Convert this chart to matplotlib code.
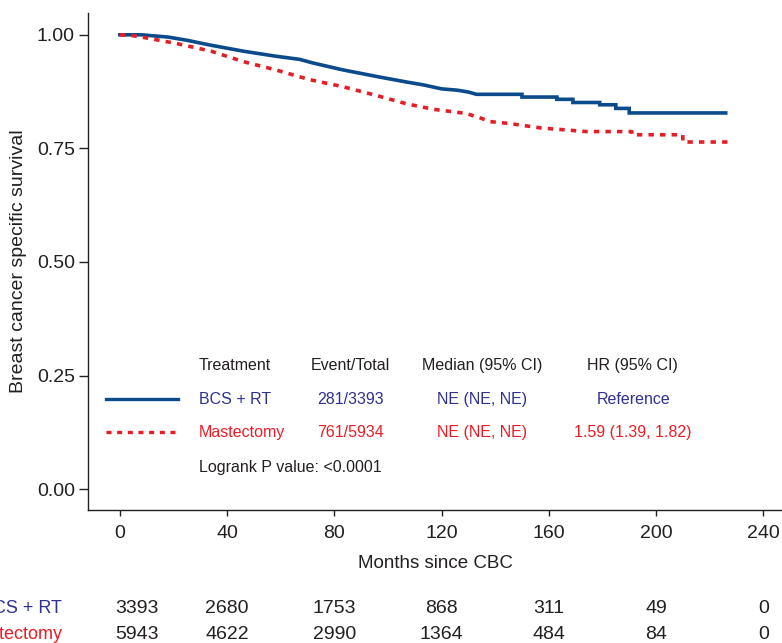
import matplotlib
matplotlib.use("Agg")
import matplotlib.pyplot as plt

plt.rcParams['font.family'] = ['Liberation Sans', 'DejaVu Sans']

# Kaplan-Meier curves (vertices; repeated times = drops)
bcs_t = [0, 8, 18, 25, 34, 46, 58, 67, 72, 83, 96, 107, 113, 120, 126, 130,
         133, 150, 150, 163, 163, 169, 169, 179, 179, 185, 185, 190, 190, 226]
bcs_s = [1.0, 1.0, 0.995, 0.988, 0.977, 0.964, 0.953, 0.946, 0.938, 0.923,
         0.908, 0.896, 0.890, 0.881, 0.878, 0.874, 0.869, 0.869, 0.863, 0.863,
         0.858, 0.858, 0.851, 0.851, 0.846, 0.846, 0.838, 0.838, 0.828, 0.828]
mast_t = [0, 5, 11, 21, 34, 46, 58, 71, 83, 96, 107, 117, 129, 134, 138, 145,
          157, 174, 191, 191, 210, 210, 227]
mast_s = [1.0, 0.998, 0.992, 0.981, 0.964, 0.941, 0.923, 0.901, 0.886, 0.866,
          0.848, 0.836, 0.827, 0.818, 0.809, 0.805, 0.795, 0.787, 0.787, 0.780,
          0.780, 0.764, 0.764]

# numbers at risk
risk_times = [0, 40, 80, 120, 160, 200, 240]
risk_bcs = [3393, 2680, 1753, 868, 311, 49, 0]
risk_mast = [5943, 4622, 2990, 1364, 484, 84, 0]

groups = ["BCS + RT", "Mastectomy"]
events = ["281/3393", "761/5934"]
medians = ["NE (NE, NE)", "NE (NE, NE)"]
hrs = ["Reference", "1.59 (1.39, 1.82)"]
headers = ["Treatment", "Event/Total", "Median (95% CI)", "HR (95% CI)"]

line_blue = '#0b4a8b'
line_red = '#e41e26'
txt_blue = '#2e3192'
txt_red = '#ed1c24'
txt_dark = '#231f20'
dash = (1.5, 1.7)

fig = plt.figure(figsize=(7.82, 6.43), dpi=100)
ax = fig.add_axes([88 / 782, 1 - 510 / 643, 1 - 88 / 782, (510 - 13) / 643])

ax.plot(bcs_t, bcs_s, color=line_blue, lw=2.6, solid_joinstyle='miter')
ax.plot(mast_t, mast_s, color=line_red, lw=2.6, dashes=dash)

ax.set_xlim(-11.9, 247)
ax.set_ylim(-0.046, 1.048)
ax.set_xticks(risk_times)
ax.set_yticks([0, 0.25, 0.5, 0.75, 1.0])
ax.set_yticklabels(['0.00', '0.25', '0.50', '0.75', '1.00'])
for s in ['top', 'right']:
    ax.spines[s].set_visible(False)
for s in ['left', 'bottom']:
    ax.spines[s].set_color(txt_dark)
    ax.spines[s].set_linewidth(1.0)
ax.tick_params(axis='x', direction='out', length=4.5, width=1.0, pad=6,
               labelsize=14, colors=txt_dark)
ax.tick_params(axis='y', direction='out', length=6.5, width=1.0, pad=3,
               labelsize=14, colors=txt_dark)
ax.set_xlabel("Months since CBC", fontsize=13.5, color=txt_dark, labelpad=10)
ax.set_ylabel("Breast cancer specific survival", fontsize=14, color=txt_dark,
              labelpad=7)

# in-plot legend table
fs = 11.5
ax.text(29.5, 0.271, headers[0], fontsize=fs, color=txt_dark, va='center')
ax.text(86, 0.271, headers[1], fontsize=fs, color=txt_dark, va='center', ha='center')
ax.text(135, 0.271, headers[2], fontsize=fs, color=txt_dark, va='center', ha='center')
ax.text(191.3, 0.271, headers[3], fontsize=fs, color=txt_dark, va='center', ha='center')

rows_y = [0.198, 0.1256]
cols = [txt_blue, txt_red]
ax.plot([-5.2, 21.6], [rows_y[0]] * 2, color=line_blue, lw=2.4, clip_on=False)
ax.plot([-5.2, 21.6], [rows_y[1]] * 2, color=line_red, lw=2.4, dashes=dash,
        clip_on=False)
for i in range(2):
    ax.text(29.5, rows_y[i], groups[i], fontsize=fs, color=cols[i], va='center')
    ax.text(86, rows_y[i], events[i], fontsize=fs, color=cols[i], va='center', ha='center')
    ax.text(135, rows_y[i], medians[i], fontsize=fs, color=cols[i], va='center', ha='center')
    ax.text(191.5, rows_y[i], hrs[i], fontsize=fs, color=cols[i], va='center', ha='center')
ax.text(29.5, 0.048, "Logrank P value: <0.0001", fontsize=fs, color=txt_dark,
        va='center')

# numbers at risk below the axis
risk_y = [-0.262, -0.319]
for i, counts in enumerate([risk_bcs, risk_mast]):
    ax.text(-21.5, risk_y[i], groups[i], fontsize=13, color=cols[i],
            ha='right', va='center', clip_on=False)
    for j, (t, n) in enumerate(zip(risk_times, counts)):
        if j == 0:
            ax.text(t - 1.9, risk_y[i], str(n), fontsize=14, color=txt_dark,
                    ha='left', va='center', clip_on=False)
        else:
            ax.text(t, risk_y[i], str(n), fontsize=14, color=txt_dark,
                    ha='center', va='center', clip_on=False)

fig.savefig('out.png', dpi=100, facecolor='white')
